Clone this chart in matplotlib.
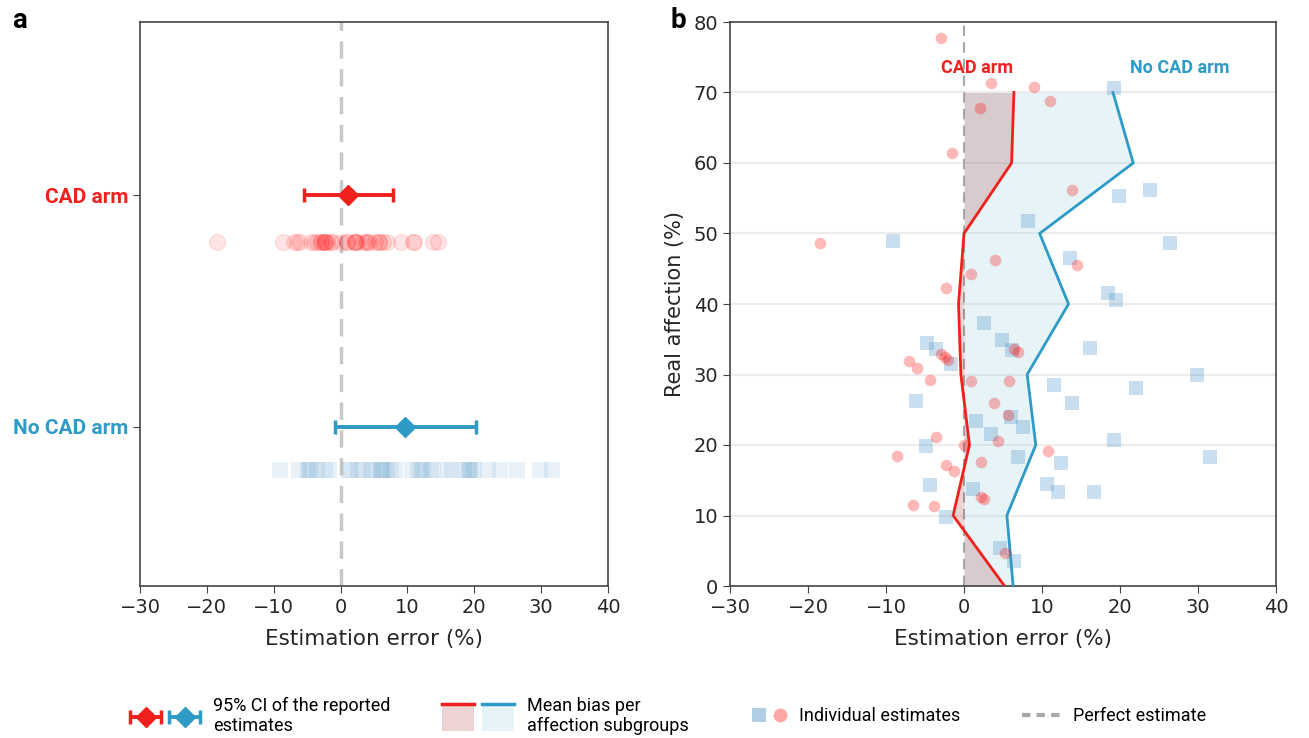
import numpy as np
import matplotlib
matplotlib.use("Agg")
import matplotlib.pyplot as plt
from matplotlib.legend_handler import HandlerTuple, HandlerBase, HandlerErrorbar
from matplotlib.container import ErrorbarContainer
from matplotlib.patches import Rectangle
from matplotlib.lines import Line2D

plt.rcParams['font.family'] = ['DejaVu Sans']
ROBOTO = ['Roboto', 'DejaVu Sans']

# individual estimates: estimation error (%) and real affection (%)
cad_err = [-3.0, 3.4, 9.0, 11.0, 2.1, -1.5, 13.8, -18.5, 4.0, 14.5, 0.9, -2.3,
           -3.0, -2.5, -2.0, 6.4, 6.9, -7.0, -6.0, -4.4, 0.9, 5.8, 3.8, 5.7,
           -3.6, 0.0, 4.3, -8.6, 10.8, 2.2, -2.3, -1.3, 2.2, 2.5, -6.5, -3.9, 5.2]
cad_real = [77.8, 71.4, 70.8, 68.8, 67.8, 61.4, 56.1, 48.7, 46.2, 45.5, 44.2, 42.3,
            32.9, 32.5, 32.1, 33.6, 33.2, 31.9, 30.9, 29.2, 29.1, 29.1, 26.0, 24.3,
            21.1, 20.0, 20.6, 18.4, 19.2, 17.6, 17.1, 16.3, 12.6, 12.4, 11.5, 11.3, 4.7]
nocad_err = [19.2, 23.8, 19.9, 8.2, -9.1, 26.4, 13.6, 18.5, 19.5, 2.6, -4.7, -3.6,
             -1.7, 4.9, 6.1, 16.1, 29.9, 11.6, 22.0, -6.2, 13.8, 1.6, 6.0, 7.5,
             3.4, 19.2, -4.9, 6.9, 31.6, 12.4, -4.4, 1.2, 10.7, 12.0, 16.7, -2.3,
             4.6, 6.4]
nocad_real = [70.7, 56.1, 55.3, 51.8, 49.0, 48.7, 46.5, 41.5, 40.5, 37.3, 34.5, 33.6,
              31.5, 34.9, 33.5, 33.8, 30.0, 28.5, 28.1, 26.2, 26.0, 23.4, 24.0, 22.5,
              21.5, 20.7, 19.8, 18.3, 18.3, 17.5, 14.3, 13.7, 14.4, 13.3, 13.3, 9.8,
              5.4, 3.6]

# mean bias per affection subgroup
levels = [0, 10, 20, 30, 40, 50, 60, 70]
cad_bias = [5.2, -1.4, 0.7, -0.4, -0.7, 0.0, 6.1, 6.4]
nocad_bias = [6.3, 5.5, 9.2, 8.1, 13.4, 9.7, 21.7, 19.1]

# 95% CI of reported estimates: mean, low, high
cad_ci = [1.05, -5.5, 7.9]
nocad_ci = [9.6, -0.9, 20.2]

arms = ['CAD arm', 'No CAD arm']
xticks = [-30, -20, -10, 0, 10, 20, 30, 40]

RED = '#f0201c'
BLUE = '#2e9bc6'
SQ = '#4f94c8'
spine_c = '#444444'
TXT = '#262626'

fig = plt.figure(figsize=(13.09, 7.38), dpi=100)
ax1 = fig.add_axes([140 / 1309, 152 / 738, 468 / 1309, 564 / 738])
ax2 = fig.add_axes([730 / 1309, 152 / 738, 546 / 1309, 564 / 738])

# ---- panel a
ax1.axvline(0, color='#c8c8c8', lw=2.5, ls=(0, (5, 3)), zorder=0)
ax1.scatter(cad_err, np.full(len(cad_err), 0.8), s=130, color='red', alpha=0.1,
            edgecolor='red', linewidth=1, zorder=2)
ax1.scatter(nocad_err, np.full(len(nocad_err), -0.19), s=130, marker='s', color=SQ,
            alpha=0.12, linewidth=0, zorder=2)
eb_red = ax1.errorbar(cad_ci[0], 1, xerr=[[cad_ci[0] - cad_ci[1]], [cad_ci[2] - cad_ci[0]]],
                      fmt='D', color=RED, ms=10, lw=2.8, capsize=5, capthick=2.5, zorder=3)
eb_blue = ax1.errorbar(nocad_ci[0], 0, xerr=[[nocad_ci[0] - nocad_ci[1]], [nocad_ci[2] - nocad_ci[0]]],
                       fmt='D', color=BLUE, ms=10, lw=2.8, capsize=5, capthick=2.5, zorder=3)
ax1.set_xlim(-30, 40)
ax1.set_ylim(-0.69, 1.75)
ax1.set_xticks(xticks)
ax1.set_yticks([1, 0])
ax1.set_yticklabels(arms, fontsize=15, fontweight='bold', family=ROBOTO)
for lab, c in zip(ax1.get_yticklabels(), [RED, BLUE]):
    lab.set_color(c)
ax1.tick_params(axis='x', labelsize=14, length=5, color=spine_c, labelcolor=TXT)
ax1.tick_params(axis='y', length=5, color=spine_c)
ax1.set_xlabel('Estimation error (%)', fontsize=15.5, labelpad=9, color=TXT)

# ---- panel b
ax2.yaxis.grid(True, color='#ececec', lw=1.5, zorder=0)
ax2.set_axisbelow(True)
ax2.axvline(0, color='#a8a8a8', lw=1.5, ls=(0, (5, 3)), zorder=1)
ax2.fill_betweenx(levels, 0, nocad_bias, color='#add8e6', alpha=0.3, lw=0, zorder=1)
ax2.fill_betweenx(levels, 0, cad_bias, color='#a52a2a', alpha=0.2, lw=0, zorder=1)
ax2.plot(nocad_bias, levels, color=BLUE, lw=2, zorder=3)
ax2.plot(cad_bias, levels, color=RED, lw=2, zorder=3)
ax2.scatter(nocad_err, nocad_real, s=110, marker='s', color=SQ, alpha=0.3, linewidth=0, zorder=4)
ax2.scatter(cad_err, cad_real, s=70, color='red', alpha=0.28, linewidth=0, zorder=4)
ax2.text(1.7, 73.5, arms[0], color=RED, fontsize=13, fontweight='bold', ha='center',
         va='center', family=ROBOTO)
ax2.text(27.7, 73.5, arms[1], color=BLUE, fontsize=13, fontweight='bold', ha='center',
         va='center', family=ROBOTO)
ax2.set_xlim(-30, 40)
ax2.set_ylim(0, 80)
ax2.set_xticks(xticks)
ax2.set_yticks(range(0, 81, 10))
ax2.tick_params(labelsize=14, length=5, color=spine_c, labelcolor=TXT)
ax2.set_xlabel('Estimation error (%)', fontsize=15.5, labelpad=9, color=TXT)
ax2.set_ylabel('Real affection (%)', fontsize=15, labelpad=6, color=TXT)

for ax in (ax1, ax2):
    for sp in ax.spines.values():
        sp.set_color(spine_c)
        sp.set_linewidth(1.2)

fig.text(12 / 1309, 1 - 20 / 738, 'a', fontsize=20, fontweight='bold', va='center', family=ROBOTO)
fig.text(670 / 1309, 1 - 20 / 738, 'b', fontsize=20, fontweight='bold', va='center', family=ROBOTO)


# ---- legend
class BiasKey:
    def __init__(self, line_color, fill_color, alpha):
        self.line_color = line_color
        self.fill_color = fill_color
        self.alpha = alpha


class HandlerBias(HandlerBase):
    def create_artists(self, legend, orig_handle, xdescent, ydescent, width, height,
                       fontsize, trans):
        top = height / 2 + 0.7 * fontsize
        bot = height / 2 - 0.8 * fontsize
        rect = Rectangle((-xdescent, bot - ydescent), width, top - bot,
                         facecolor=orig_handle.fill_color, alpha=orig_handle.alpha,
                         lw=0, transform=trans)
        line = Line2D([-xdescent, width - xdescent], [top - ydescent, top - ydescent],
                      color=orig_handle.line_color, lw=2.5, transform=trans)
        return [rect, line]


hmap = {tuple: HandlerTuple(ndivide=None, pad=0.45),
        BiasKey: HandlerBias(),
        ErrorbarContainer: HandlerErrorbar(xerr_size=0.85)}

sq_key = Line2D([], [], marker='s', ls='none', color=SQ, alpha=0.45, ms=10, mew=0)
ci_key = Line2D([], [], marker='o', ls='none', color='red', alpha=0.35, ms=10, mew=0)
dash_key = Line2D([], [], color='#a8a8a8', lw=3, ls=(0, (2, 1.5)))

entries = [
    ((eb_red, eb_blue), '95% CI of the reported\nestimates', 130, 3.9),
    ((BiasKey(RED, '#a52a2a', 0.2), BiasKey(BLUE, '#add8e6', 0.3)),
     'Mean bias per\naffection subgroups', 442, 4.0),
    ((sq_key, ci_key), 'Individual estimates', 752, 1.9),
    (dash_key, 'Perfect estimate', 1022, 2.1),
]
for handle, label, xpx, hl in entries:
    fig.legend([handle], [label], handler_map=hmap, loc='center left',
               bbox_to_anchor=(xpx / 1309, 22 / 738), frameon=False,
               prop={'family': ROBOTO, 'size': 13},
               handlelength=hl, handletextpad=0.7, borderpad=0, borderaxespad=0)

fig.savefig('out.png', dpi=100)
